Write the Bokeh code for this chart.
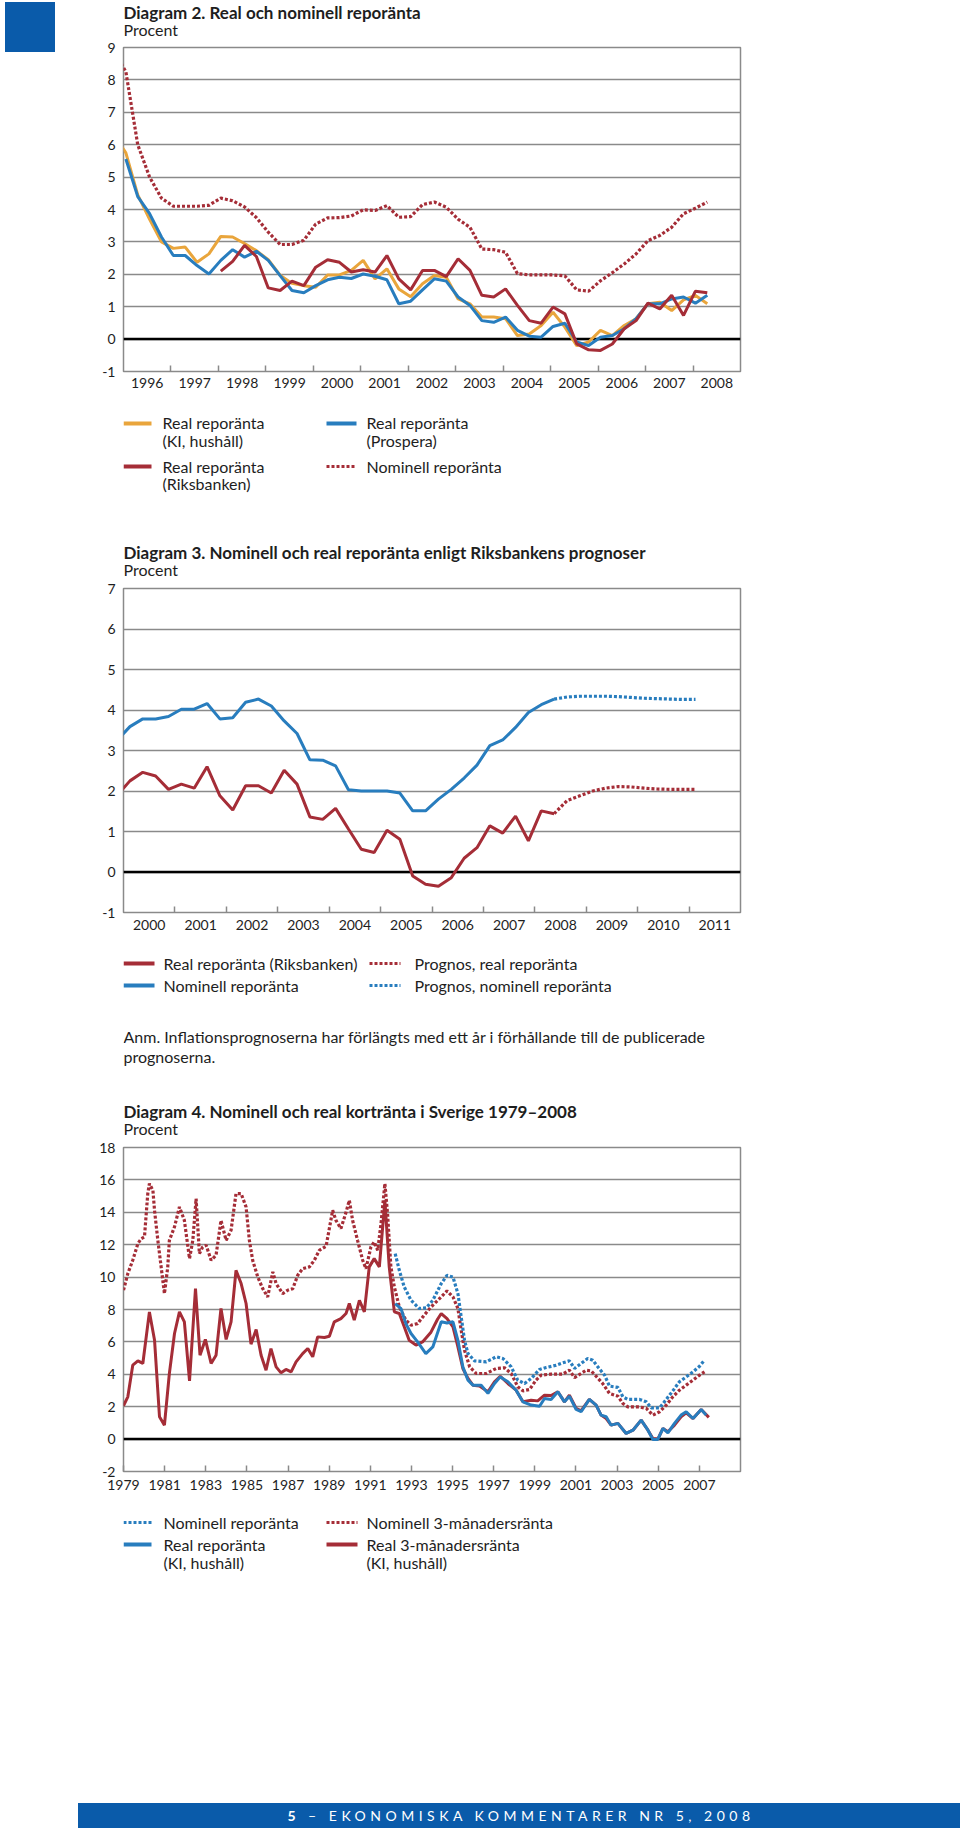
from bokeh.plotting import figure
from bokeh.models import Range1d, FixedTicker, Span, Div
from bokeh.layouts import column, row
from bokeh.embed import file_html
from bokeh.resources import INLINE
from bokeh.core.properties import value
import numpy as np

NAN = float("nan")
FONT = "Lato"
ORANGE = "#E9A53C"
BLUE = "#287DBE"
RED = "#A52D37"
GRID = "#8A8A8A"
NAVY = "#0A5BAA"
TXT = "#1E1E1E"
DOT = "3 2"
DOT_W = 3.2

# ---------------- Diagram 2: Real och nominell reporänta ----------------
KVARTAL_D2 = [1995.80 + 0.25 * i for i in range(51)]
NOMINELL_D2 = [8.91, 8.25, 6.00, 5.00, 4.35, 4.10, 4.10, 4.10, 4.13, 4.35,
               4.27, 4.08, 3.75, 3.30, 2.92, 2.92, 3.05, 3.55, 3.74, 3.75,
               3.80, 3.99, 3.97, 4.12, 3.76, 3.78, 4.15, 4.23, 4.07, 3.70,
               3.45, 2.78, 2.76, 2.68, 2.02, 1.98, 1.98, 1.98, 1.95, 1.52,
               1.48, 1.80, 2.05, 2.32, 2.63, 3.04, 3.20, 3.45, 3.87, 4.04,
               4.23]
KI_D2 = [6.30, 5.75, 4.45, 3.70, 3.00, 2.80, 2.84, 2.37, 2.63, 3.17,
         3.15, 2.95, 2.73, 2.45, 1.97, 1.72, 1.65, 1.60, 1.98, 1.98,
         2.12, 2.43, 1.86, 2.17, 1.55, 1.31, 1.71, 1.96, 1.91, 1.24,
         1.09, 0.68, 0.68, 0.63, 0.11, 0.16, 0.42, 0.83, 0.37, -0.20,
         -0.09, 0.27, 0.11, 0.42, 0.63, 1.09, 1.14, 0.88, 1.21, 1.35,
         1.09]
PROSPERA_D2 = [NAN, 5.56, 4.40, 3.87, 3.15, 2.58, 2.58, 2.27, 2.01, 2.43,
               2.76, 2.53, 2.71, 2.43, 1.96, 1.50, 1.43, 1.65, 1.83, 1.91,
               1.87, 2.01, 1.94, 1.83, 1.09, 1.17, 1.52, 1.86, 1.79, 1.30,
               1.04, 0.57, 0.52, 0.68, 0.27, 0.09, 0.06, 0.39, 0.49, -0.09,
               -0.20, 0.06, 0.11, 0.32, 0.63, 1.09, 1.09, 1.24, 1.30, 1.11,
               1.35]
RIKSBANKEN_D2 = [NAN, NAN, NAN, NAN, NAN, NAN, NAN, NAN, NAN, 2.10,
                 2.40, 2.89, 2.55, 1.58, 1.50, 1.79, 1.65, 2.22, 2.45, 2.37,
                 2.07, 2.14, 2.07, 2.58, 1.86, 1.52, 2.12, 2.12, 1.93, 2.48,
                 2.12, 1.35, 1.30, 1.55, 1.04, 0.57, 0.49, 0.99, 0.78, -0.15,
                 -0.33, -0.35, -0.15, 0.32, 0.57, 1.11, 0.93, 1.35, 0.73, 1.48,
                 1.43]
AR_D2 = [1996, 1997, 1998, 1999, 2000, 2001, 2002, 2003, 2004, 2005, 2006, 2007, 2008]
Y_D2 = [-1, 0, 1, 2, 3, 4, 5, 6, 7, 8, 9]

# ---------------- Diagram 3: Riksbankens prognoser ----------------
KVARTAL_D3 = [1999.875 + 0.25 * i for i in range(46)]
NOMINELL_D3 = [3.25, 3.59, 3.78, 3.78, 3.84, 4.02, 4.02, 4.16, 3.78, 3.81,
               4.19, 4.27, 4.10, 3.73, 3.42, 2.77, 2.76, 2.62, 2.03, 2.00,
               2.00, 2.00, 1.95, 1.51, 1.51, 1.80, 2.04, 2.32, 2.64, 3.12,
               3.26, 3.57, 3.94, 4.13, 4.27] + [NAN] * 11
REAL_D3 = [1.89, 2.25, 2.46, 2.37, 2.04, 2.17, 2.07, 2.60, 1.88, 1.53,
           2.13, 2.13, 1.95, 2.51, 2.17, 1.36, 1.30, 1.57, 1.06, 0.56,
           0.48, 1.03, 0.81, -0.10, -0.30, -0.35, -0.14, 0.34, 0.60, 1.14,
           0.96, 1.38, 0.77, 1.51, 1.44] + [NAN] * 11
PROGNOS_NOM_D3 = [NAN] * 34 + [4.27, 4.32, 4.34, 4.34, 4.34, 4.33, 4.31, 4.29, 4.28, 4.27, 4.26, 4.26]
PROGNOS_REAL_D3 = [NAN] * 34 + [1.44, 1.76, 1.88, 2.00, 2.07, 2.11, 2.10, 2.07, 2.05, 2.04, 2.04, 2.04]
AR_D3 = [2000, 2001, 2002, 2003, 2004, 2005, 2006, 2007, 2008, 2009, 2010, 2011]
Y_D3 = [-1, 0, 1, 2, 3, 4, 5, 6, 7]

# ---------------- Diagram 4: Nominell och real kortränta 1979-2008 ----------------
T_NOM3M = [1979.00, 1979.21, 1979.45, 1979.70, 1979.86, 1980.02, 1980.18, 1980.26, 1980.43, 1980.51,
           1980.67, 1980.83, 1980.99, 1981.15, 1981.23, 1981.48, 1981.72, 1981.96, 1982.21, 1982.37,
           1982.53, 1982.69, 1982.85, 1983.02, 1983.26, 1983.50, 1983.74, 1983.99, 1984.23, 1984.47,
           1984.72, 1984.96, 1985.12, 1985.28, 1985.53, 1985.77, 1986.01, 1986.26, 1986.42, 1986.74,
           1986.98, 1987.23, 1987.47, 1987.71, 1988.04, 1988.28, 1988.52, 1988.85, 1989.17, 1989.33,
           1989.57, 1989.82, 1989.98, 1990.14, 1990.38, 1990.63, 1990.79, 1991.03, 1991.19, 1991.36,
           1991.52, 1991.71, 1991.84, 1992.00, 1992.17, 1992.41, 1992.73, 1992.98, 1993.30, 1993.62,
           1993.95, 1994.45, 1994.73, 1995.02, 1995.26, 1995.42, 1995.58, 1995.83, 1996.15, 1996.64,
           1997.12, 1997.53, 1997.85, 1998.17, 1998.42, 1998.74, 1999.06, 1999.31, 1999.79, 2000.36,
           2000.68, 2000.93, 2001.25, 2001.49, 2001.74, 2001.98, 2002.30, 2002.63, 2003.04, 2003.28,
           2003.52, 2004.09, 2004.42, 2004.74, 2005.07, 2005.39, 2005.71, 2006.03, 2006.36, 2006.69,
           2007.01, 2007.25]
NOM3M = [9.19, 10.22, 11.04, 12.07, 12.37, 12.48, 15.15, 15.77, 15.35, 14.10,
         12.27, 10.63, 8.98, 10.60, 12.27, 13.10, 14.33, 13.50, 11.14, 12.27,
         14.84, 11.45, 11.86, 11.96, 11.04, 11.35, 13.50, 12.27, 12.89, 15.15,
         15.15, 14.33, 12.27, 11.04, 10.00, 9.29, 8.78, 10.32, 9.60, 8.98,
         9.19, 9.29, 10.11, 10.52, 10.63, 11.04, 11.65, 11.90, 14.12, 13.50,
         13.00, 14.00, 14.74, 13.50, 12.27, 11.04, 10.52, 11.86, 12.17, 11.65,
         13.30, 15.77, 13.90, 10.63, 9.39, 8.16, 7.34, 7.03, 7.13, 7.65,
         8.15, 8.78, 9.15, 8.78, 8.06, 6.72, 5.49, 4.46, 4.05, 4.05,
         4.36, 4.40, 4.05, 3.23, 2.98, 3.06, 3.64, 3.95, 4.01, 4.01,
         4.25, 3.80, 4.05, 4.25, 4.21, 3.88, 3.43, 2.82, 2.65, 2.20,
         1.99, 1.99, 1.89, 1.48, 1.69, 2.10, 2.61, 3.02, 3.33, 3.64,
         3.95, 4.15]
T_NOMREPO = [1992.21, 1992.41, 1992.65, 1992.98, 1993.38, 1993.72, 1994.04, 1994.45, 1994.73, 1995.02,
             1995.26, 1995.42, 1995.58, 1995.75, 1996.07, 1996.64, 1997.12, 1997.45, 1997.85, 1998.17,
             1998.50, 1998.82, 1999.23, 1999.55, 2000.04, 2000.36, 2000.68, 2000.93, 2001.25, 2001.57,
             2001.82, 2002.06, 2002.39, 2002.63, 2003.04, 2003.28, 2003.52, 2004.09, 2004.42, 2004.66,
             2005.07, 2005.39, 2005.71, 2006.03, 2006.36, 2006.69, 2007.01, 2007.25]
NOMREPO = [11.45, 10.42, 9.39, 8.57, 8.06, 8.10, 8.57, 9.60, 10.11, 10.00,
           8.98, 7.54, 6.10, 5.28, 4.83, 4.77, 5.08, 4.97, 4.46, 3.64,
           3.43, 3.74, 4.30, 4.42, 4.56, 4.71, 4.83, 4.36, 4.67, 4.97,
           4.87, 4.46, 3.95, 3.27, 3.19, 2.61, 2.45, 2.45, 2.30, 1.93,
           1.93, 2.45, 2.98, 3.54, 3.84, 4.15, 4.50, 4.87]
T_REAL3M = [1979.00, 1979.21, 1979.45, 1979.70, 1979.94, 1980.26, 1980.51, 1980.75, 1980.99, 1981.23,
            1981.48, 1981.72, 1981.96, 1982.21, 1982.50, 1982.72, 1982.98, 1983.26, 1983.50, 1983.74,
            1983.99, 1984.23, 1984.47, 1984.72, 1984.96, 1985.20, 1985.45, 1985.69, 1985.93, 1986.17,
            1986.42, 1986.66, 1986.90, 1987.15, 1987.39, 1987.71, 1987.96, 1988.20, 1988.44, 1988.77,
            1989.01, 1989.25, 1989.57, 1989.82, 1989.98, 1990.22, 1990.47, 1990.71, 1990.95, 1991.19,
            1991.44, 1991.71, 1991.92, 1992.17, 1992.41, 1992.65, 1992.89, 1993.22, 1993.54, 1993.95,
            1994.27, 1994.45, 1994.73, 1995.02, 1995.26, 1995.50, 1995.75, 1995.99, 1996.31, 1996.72,
            1997.04, 1997.32, 1997.69, 1998.09, 1998.42, 1998.82, 1999.14, 1999.47, 1999.79, 2000.12,
            2000.44, 2000.68, 2001.01, 2001.25, 2001.65, 2001.98, 2002.22, 2002.47, 2002.71, 2003.04,
            2003.44, 2003.77, 2004.17, 2004.50, 2004.74, 2004.98, 2005.23, 2005.47, 2005.79, 2006.11,
            2006.36, 2006.69, 2007.09, 2007.46]
REAL3M = [2.06, 2.61, 4.56, 4.83, 4.67, 7.85, 6.10, 1.38, 0.86, 4.05,
          6.52, 7.85, 7.24, 3.60, 9.29, 5.18, 6.15, 4.67, 5.18, 8.06,
          6.15, 7.24, 10.42, 9.60, 8.37, 5.86, 6.76, 5.18, 4.25, 5.59,
          4.46, 4.09, 4.30, 4.15, 4.77, 5.28, 5.59, 5.08, 6.31, 6.27,
          6.35, 7.24, 7.44, 7.75, 8.37, 7.34, 8.57, 7.85, 10.63, 11.14,
          10.63, 14.74, 10.63, 7.85, 7.75, 6.93, 6.10, 5.80, 6.00, 6.60,
          7.40, 7.75, 7.44, 6.93, 5.69, 4.36, 3.74, 3.33, 3.27, 2.92,
          3.54, 3.88, 3.43, 3.02, 2.30, 2.40, 2.36, 2.71, 2.69, 2.92,
          2.30, 2.71, 1.89, 1.75, 2.45, 2.10, 1.48, 1.27, 0.86, 0.97,
          0.35, 0.55, 1.17, 0.55, 0.04, 0.00, 0.66, 0.45, 0.86, 1.38,
          1.62, 1.27, 1.83, 1.34]
T_REALREPO = [1992.21, 1992.49, 1992.73, 1992.98, 1993.30, 1993.70, 1994.04, 1994.45, 1994.73, 1995.02,
              1995.26, 1995.50, 1995.75, 1995.99, 1996.39, 1996.72, 1997.04, 1997.32, 1997.69, 1998.09,
              1998.42, 1998.82, 1999.23, 1999.47, 1999.79, 2000.12, 2000.44, 2000.68, 2001.01, 2001.25,
              2001.65, 2001.98, 2002.22, 2002.47, 2002.71, 2003.04, 2003.44, 2003.77, 2004.17, 2004.50,
              2004.74, 2004.98, 2005.23, 2005.47, 2005.79, 2006.11, 2006.36, 2006.69, 2007.09, 2007.33]
REALREPO = [8.37, 8.06, 7.13, 6.52, 6.00, 5.28, 5.69, 7.24, 7.17, 7.24,
            6.10, 4.46, 3.64, 3.33, 3.33, 2.82, 3.43, 3.84, 3.54, 3.02,
            2.30, 2.10, 2.03, 2.51, 2.45, 2.92, 2.30, 2.65, 1.83, 1.69,
            2.45, 2.10, 1.48, 1.38, 0.86, 0.97, 0.35, 0.55, 1.17, 0.55,
            -0.02, -0.02, 0.66, 0.39, 0.97, 1.48, 1.69, 1.27, 1.83, 1.48]
AR_D4 = [1979, 1981, 1983, 1985, 1987, 1989, 1991, 1993, 1995, 1997, 1999, 2001, 2003, 2005, 2007]
Y_D4 = [-2, 0, 2, 4, 6, 8, 10, 12, 14, 16, 18]

# frame of every figure: page x 123 .. 740 (all figures share the same borders)
FX0, FX1 = 123, 740


# ---------------- helpers ----------------
def text_fig(width, y0, y1):
    """A blank figure whose data units are page pixels (x: page x, y: page y)."""
    p = figure(width=width, height=y1 - y0, x_range=Range1d(FX0, FX1), y_range=Range1d(y1, y0),
               x_axis_type=None, y_axis_type=None, toolbar_location=None,
               output_backend="svg", min_border_top=0, min_border_bottom=0,
               min_border_left=FX0 - (960 - width), min_border_right=960 - FX1)
    p.outline_line_color = None
    return p


def put_text(p, x, y, s, size="16px", bold=False):
    p.text(x=[x], y=[y], text=[s], text_font=value(FONT), text_font_size=size,
           text_font_style="bold" if bold else "normal", text_color=TXT,
           text_baseline="middle", text_align="left")


def swatch(p, x0, x1, y, color, dash="solid", width=4):
    p.line(x=[x0, x1], y=[y, y], line_color=color, line_width=width, line_dash=dash)


def chart(width, y0, y1, frame_top, frame_bottom, xr, yr, yticks, label_ticks, labels, minor,
          standoff, major_in, neg_labels):
    p = figure(width=width, height=y1 - y0, x_range=Range1d(*xr), y_range=Range1d(*yr),
               toolbar_location=None, output_backend="svg",
               min_border_left=FX0 - (960 - width), min_border_right=960 - FX1,
               min_border_top=frame_top - y0, min_border_bottom=y1 - frame_bottom)
    p.outline_line_color = GRID
    p.outline_line_width = 1.5
    p.xgrid.visible = False
    yt = FixedTicker(ticks=yticks)
    p.yaxis.ticker = yt
    p.ygrid.ticker = yt
    p.ygrid.grid_line_color = GRID
    p.ygrid.grid_line_width = 1.5
    ya = p.yaxis[0]
    ya.axis_line_color = None
    ya.major_tick_line_color = None
    ya.minor_tick_line_color = None
    ya.major_tick_in = 0
    ya.major_tick_out = 0
    ya.major_label_standoff = 8
    ya.major_label_text_font = FONT
    ya.major_label_text_font_size = "14px"
    ya.major_label_text_color = TXT
    ya.major_label_overrides = neg_labels
    xa = p.xaxis[0]
    xa.ticker = FixedTicker(ticks=label_ticks, minor_ticks=minor)
    xa.major_label_overrides = {float(t): s for t, s in zip(label_ticks, labels)}
    xa.axis_line_color = None
    xa.major_tick_in = major_in
    xa.major_tick_out = 0
    xa.major_tick_line_color = GRID if major_in else None
    xa.major_tick_line_width = 1.5
    xa.minor_tick_in = 6
    xa.minor_tick_out = 0
    xa.minor_tick_line_color = GRID
    xa.minor_tick_line_width = 1.5
    xa.major_label_standoff = standoff
    xa.major_label_text_font = FONT
    xa.major_label_text_font_size = "14px"
    xa.major_label_text_color = TXT
    p.add_layout(Span(location=0, dimension="width", line_color="black",
                      line_width=2.5, level="underlay"))
    return p


# ---------------- block 1: Diagram 2 ----------------
square = Div(text=('<div style="position:relative;left:5px;top:2px;width:50px;height:50px;'
                   'background:%s;"></div>') % NAVY,
             width=60, height=397, margin=(0, 0, 0, 0))

t1 = text_fig(900, 0, 38)
put_text(t1, 123, 12, "Diagram 2. Real och nominell reporänta", "17px", True)
put_text(t1, 123, 29, "Procent", "16px")

c1 = chart(900, 38, 397, 47, 371, (1996, 2009), (-1, 9), Y_D2,
           [a + 0.5 for a in AR_D2], [str(a) for a in AR_D2], AR_D2[1:], 6, 0, {-1: "-1"})
x2 = np.array(KVARTAL_D2)
c1.line(x2, np.array(KI_D2), line_color=ORANGE, line_width=3)
c1.line(x2, np.array(PROSPERA_D2), line_color=BLUE, line_width=3)
c1.line(x2, np.array(RIKSBANKEN_D2), line_color=RED, line_width=3)
c1.line(x2, np.array(NOMINELL_D2), line_color=RED, line_width=DOT_W, line_dash=DOT)

l1 = text_fig(960, 397, 579)
swatch(l1, 123, 151, 423, ORANGE)
put_text(l1, 162, 422, "Real reporänta")
put_text(l1, 162, 440, "(KI, hushåll)")
swatch(l1, 326, 356, 423, BLUE)
put_text(l1, 366, 422, "Real reporänta")
put_text(l1, 366, 440, "(Prospera)")
swatch(l1, 123, 151, 466, RED)
put_text(l1, 162, 466, "Real reporänta")
put_text(l1, 162, 483, "(Riksbanken)")
swatch(l1, 326, 356, 466, RED, DOT, DOT_W)
put_text(l1, 366, 466, "Nominell reporänta")
put_text(l1, 123, 552, "Diagram 3. Nominell och real reporänta enligt Riksbankens prognoser", "17px", True)
put_text(l1, 123, 569, "Procent", "16px")

# ---------------- block 2: Diagram 3 ----------------
c2 = chart(960, 579, 938, 588, 912, (2000, 2012), (-1, 7), Y_D3,
           [a + 0.5 for a in AR_D3], [str(a) for a in AR_D3], AR_D3[1:], 7, 0, {-1: "-1"})
x3 = np.array(KVARTAL_D3)
c2.line(x3, np.array(NOMINELL_D3), line_color=BLUE, line_width=3)
c2.line(x3, np.array(REAL_D3), line_color=RED, line_width=3)
c2.line(x3, np.array(PROGNOS_NOM_D3), line_color=BLUE, line_width=DOT_W, line_dash=DOT)
c2.line(x3, np.array(PROGNOS_REAL_D3), line_color=RED, line_width=DOT_W, line_dash=DOT)

l2 = text_fig(960, 938, 1138)
swatch(l2, 123, 154, 963, RED)
put_text(l2, 163, 963, "Real reporänta (Riksbanken)")
swatch(l2, 369, 400, 963, RED, DOT, DOT_W)
put_text(l2, 414, 963, "Prognos, real reporänta")
swatch(l2, 123, 154, 985, BLUE)
put_text(l2, 163, 985, "Nominell reporänta")
swatch(l2, 369, 400, 985, BLUE, DOT, DOT_W)
put_text(l2, 414, 985, "Prognos, nominell reporänta")
put_text(l2, 123, 1036, "Anm. Inflationsprognoserna har förlängts med ett år i förhållande till de publicerade")
put_text(l2, 123, 1056, "prognoserna.")
put_text(l2, 123, 1111, "Diagram 4. Nominell och real kortränta i Sverige 1979–2008", "17px", True)
put_text(l2, 123, 1128, "Procent", "16px")

# ---------------- block 3: Diagram 4 ----------------
c3 = chart(960, 1138, 1497, 1147, 1471, (1979, 2009), (-2, 18), Y_D4,
           AR_D4, [str(a) for a in AR_D4], [], 8, 6, {-2: "-2"})
c3.line(np.array(T_NOM3M), np.array(NOM3M), line_color=RED, line_width=DOT_W, line_dash=DOT)
c3.line(np.array(T_NOMREPO), np.array(NOMREPO), line_color=BLUE, line_width=DOT_W, line_dash=DOT)
c3.line(np.array(T_REAL3M), np.array(REAL3M), line_color=RED, line_width=3)
c3.line(np.array(T_REALREPO), np.array(REALREPO), line_color=BLUE, line_width=3)

l3 = text_fig(960, 1497, 1803)
swatch(l3, 123, 151, 1522, BLUE, DOT, DOT_W)
put_text(l3, 163, 1522, "Nominell reporänta")
swatch(l3, 326, 357, 1522, RED, DOT, DOT_W)
put_text(l3, 366, 1522, "Nominell 3-månadersränta")
swatch(l3, 123, 151, 1544, BLUE)
put_text(l3, 163, 1544, "Real reporänta")
put_text(l3, 163, 1562, "(KI, hushåll)")
swatch(l3, 326, 357, 1544, RED)
put_text(l3, 366, 1544, "Real 3-månadersränta")
put_text(l3, 366, 1562, "(KI, hushåll)")

footer = Div(text=('<div style="margin-left:78px;width:882px;height:25px;background:%s;'
                   'color:#ffffff;font-family:Lato,sans-serif;font-size:14px;letter-spacing:4.5px;'
                   'line-height:25px;text-align:center;white-space:nowrap;padding-left:4px;box-sizing:border-box;">'
                   '<b>5</b> – EKONOMISKA KOMMENTARER NR 5, 2008</div>') % NAVY,
             width=960, height=25, margin=(0, 0, 0, 0))

block1 = row(square, column(t1, c1, spacing=0), spacing=0)
page = column(block1, l1, c2, l2, c3, l3, footer, spacing=0)

open("out.html", "w").write(file_html(page, INLINE, title="Diagram 2-4"))
